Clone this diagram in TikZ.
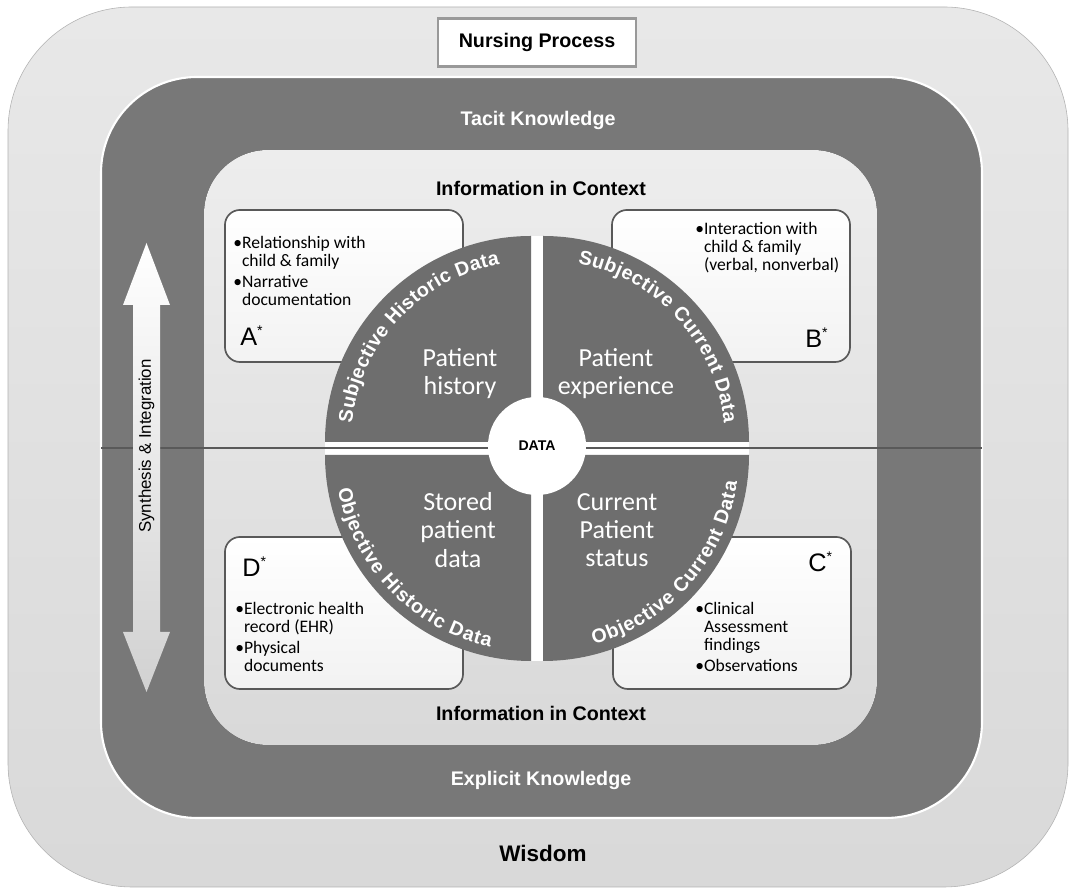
\documentclass[tikz,border=0pt]{standalone}
\usepackage{fontspec}
\setmainfont{Liberation Sans}
\newfontfamily\carlito{Carlito}
\usetikzlibrary{decorations.text}

\newcommand\arcfont{\bfseries\fontsize{14}{16}\selectfont}
\newcommand\astsup{\raisebox{0.75ex}{\fontsize{10}{10}\selectfont*}}

\begin{document}
\begin{tikzpicture}[x=0.025cm, y=0.025cm,
    % headings of the rings
    heading/.style={font=\bfseries\fontsize{14}{16}\selectfont},
    bulletbox/.style={draw=black!65, line width=1.2pt, rounded corners=0.375cm, top color=white, bottom color=black!5, minimum width=5.95cm, minimum height=3.8cm},
    boxtext/.style={font=\carlito\fontsize{12.5}{13}\selectfont, anchor=north west, inner sep=0pt, align=left},
    letter/.style={font=\fontsize{18}{20}\selectfont, anchor=base west, inner sep=0pt},
    quarter/.style={fill=black!57},
    quarterlabel/.style={text=white, font=\carlito\fontsize{18.5}{20}\selectfont, align=center},
    arctext/.style={font=\arcfont, decorate, decoration={text along path, text color=white, text align={fit to path}, text={|\arcfont|#1}}}
  ]

  \useasboundingbox (0,0) rectangle (1072,892);
  \fill[white] (0,0) rectangle (1072,892);

  % rings
  \draw[black!30, top color=black!9, bottom color=black!15, rounded corners=3.1cm] (8,5) rectangle (1068,885);
  \draw[white, line width=1.5pt, fill=black!53, rounded corners=2.4cm] (101,74) rectangle (982,815);
  \fill[top color=black!7, bottom color=black!15, rounded corners=1.6cm] (204,147) rectangle (877,742);

  \node (nursing) [draw=black!40, line width=1.6pt, fill=white, minimum width=4.95cm, minimum height=1.2cm, heading] at (537,849.5) {Nursing Process};
  \node (tacit) [heading, text=white] at (538,772) {Tacit Knowledge};
  \node (infotop) [heading] at (541,704) {Information in Context};
  \node (infobot) [heading] at (541,179) {Information in Context};
  \node (explicit) [heading, text=white] at (541,112) {Explicit Knowledge};
  \node (wisdom) [font=\bfseries\fontsize{16}{18}\selectfont] at (543,39) {Wisdom};

  % corner boxes
  \node (boxA) [bulletbox] at (344,606) {};
  \node (boxB) [bulletbox] at (731,606) {};
  \node (boxD) [bulletbox] at (344,279) {};
  \node (boxC) [bulletbox] at (732,279) {};

  \node (txtA) [boxtext] at (233,657) {\begin{tabular}{@{}l@{}l@{}}\textbullet&Relationship with\\&child \& family\\[2pt]\textbullet&Narrative\\&documentation\end{tabular}};
  \node (txtB) [boxtext] at (695,671) {\begin{tabular}{@{}l@{}l@{}}\textbullet&Interaction with\\&child \& family\\&(verbal, nonverbal)\end{tabular}};
  \node (txtC) [boxtext] at (695,291) {\begin{tabular}{@{}l@{}l@{}}\textbullet&Clinical\\&Assessment\\&findings\\[2pt]\textbullet&Observations\end{tabular}};
  \node (txtD) [boxtext] at (235,291) {\begin{tabular}{@{}l@{}l@{}}\textbullet&Electronic health\\&record (EHR)\\[2pt]\textbullet&Physical\\&documents\end{tabular}};

  \node (letA) [letter] at (240,546) {A\astsup};
  \node (letB) [letter] at (805,544) {B\astsup};
  \node (letD) [letter] at (242,315) {D\astsup};
  \node (letC) [letter] at (808,320) {C\astsup};

  % gaps between the quarters
  \fill[white] (531,231) rectangle (543,656);
  \fill[white] (325,437) rectangle (749,450);
  \draw[black!65, line width=1pt] (101,444) -- (982,444);

  % quarters
  \fill[quarter] (531,450) -- ++(-206,0) arc[start angle=180, end angle=90, radius=206] -- cycle;
  \fill[quarter] (543,450) -- ++(0,206) arc[start angle=90, end angle=0, radius=206] -- cycle;
  \fill[quarter] (531,437) -- ++(0,-206) arc[start angle=270, end angle=180, radius=206] -- cycle;
  \fill[quarter] (543,437) -- ++(206,0) arc[start angle=0, end angle=-90, radius=206] -- cycle;

  \path[arctext={Subjective Historic Data}] (531,450) ++(174:180) arc[start angle=174, end angle=100, radius=180];
  \path[arctext={Subjective Current Data}] (543,450) ++(79:182) arc[start angle=79, end angle=6, radius=182];
  \path[arctext={Objective Historic Data}] (531,437) ++(190:196) arc[start angle=190, end angle=258, radius=196];
  \path[arctext={Objective Current Data}] (543,437) ++(285:196) arc[start angle=285, end angle=352, radius=196];

  \node (hist) [quarterlabel] at (460,518) {Patient\\history};
  \node (exper) [quarterlabel] at (616,518) {Patient\\experience};
  \node (stored) [quarterlabel] at (458,362) {Stored\\patient\\data};
  \node (status) [quarterlabel] at (617,362) {Current\\Patient\\status};

  \node (data) [circle, fill=white, minimum size=2.45cm, font=\bfseries\fontsize{10}{12}\selectfont] at (537,446) {DATA};

  % synthesis arrow
  \shade[top color=white, bottom color=black!18] (146.5,649) -- (170,587) -- (160,587) -- (160,260) -- (170,260) -- (146.5,200) -- (123,260) -- (133,260) -- (133,587) -- (123,587) -- cycle;
  \node (synth) [rotate=90, font=\fontsize{12}{14}\selectfont] at (146.5,446) {Synthesis \& Integration};

\end{tikzpicture}
\end{document}
